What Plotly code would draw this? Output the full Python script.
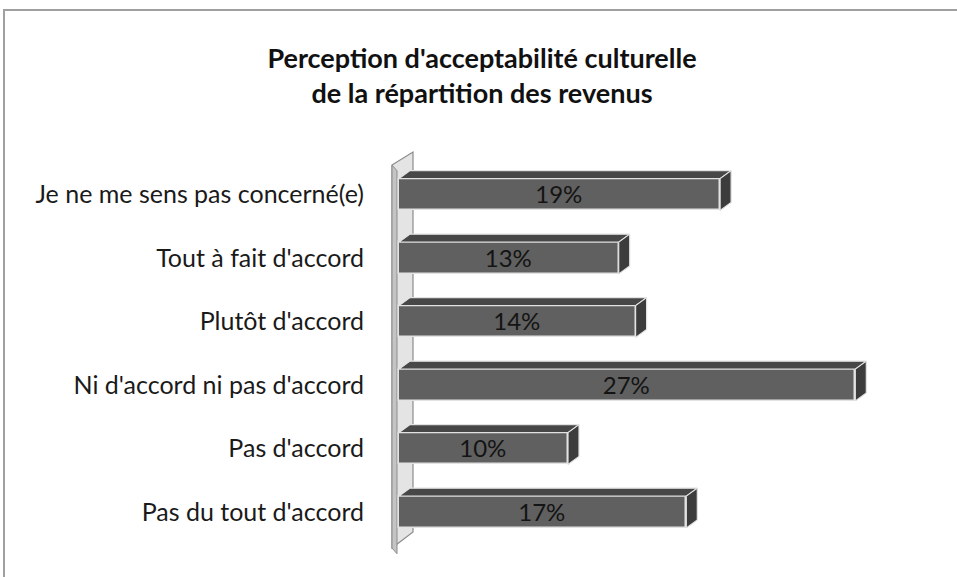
import plotly.graph_objects as go

# Survey results, top row first
categories = [
    "Je ne me sens pas concerné(e)",
    "Tout à fait d'accord",
    "Plutôt d'accord",
    "Ni d'accord ni pas d'accord",
    "Pas d'accord",
    "Pas du tout d'accord",
]
values = [19, 13, 14, 27, 10, 17]

# vertical slot of each category (bottom row = 0)
n = len(categories)
positions = [n - 1 - i for i in range(n)]

# geometry of the plot area (pixels) and the 3D look
W, H = 957, 577
PL, PR, PT, PB = 385, 900, 140, 556
X0_PX = 399            # pixel where value 0 sits
PX_PER_UNIT = 16.9     # pixels per percentage point
ROW_PX = 63.5          # pixels between rows
ROW0_PX = 512          # pixel centre of bottom row

x_range = [(PL - X0_PX) / PX_PER_UNIT, (PR - X0_PX) / PX_PER_UNIT]
y_range = [-(PB - ROW0_PX) / ROW_PX, (ROW0_PX - PT) / ROW_PX]

def px_x(p):
    return (p - X0_PX) / PX_PER_UNIT

def px_y(p):
    return (ROW0_PX - p) / ROW_PX

bar_w = 0.5
dx = 11 / PX_PER_UNIT
dy = 8 / ROW_PX

front = "#606060"
top_c = "#474747"
side_c = "#3c3c3c"
edge = "#e2e2e2"
FONT = "Lato, Open Sans, sans-serif"

fig = go.Figure()

fig.add_trace(go.Bar(
    x=values, y=positions, orientation="h", width=bar_w,
    marker=dict(color=front, line=dict(color=edge, width=1.5)),
    text=[f"{v}%" for v in values], textposition="inside",
    insidetextanchor="middle", constraintext="none",
    textfont=dict(family=FONT, size=24, color="#141414"),
    hoverinfo="skip", showlegend=False,
))

# top and side faces of each bar
for v, p in zip(values, positions):
    yt = p + bar_w / 2
    yb = p - bar_w / 2
    fig.add_trace(go.Scatter(
        x=[0, v, v + dx, dx, 0], y=[yt, yt, yt + dy, yt + dy, yt],
        mode="lines", fill="toself", fillcolor=top_c,
        line=dict(color=edge, width=1.2), hoverinfo="skip", showlegend=False,
    ))
    fig.add_trace(go.Scatter(
        x=[v, v + dx, v + dx, v, v], y=[yt, yt + dy, yb + dy, yb, yt],
        mode="lines", fill="toself", fillcolor=side_c,
        line=dict(color=edge, width=1.2), hoverinfo="skip", showlegend=False,
    ))

# the side wall behind the bars
wx_l, wx_f, wx_r = px_x(392), px_x(397), px_x(413)
w_top_l, w_top_r = px_y(165), px_y(152)
w_bot_l, w_bot_r = px_y(548), px_y(532)
shapes = [
    dict(type="path", layer="below", xref="x", yref="y",
         path=f"M {wx_l},{w_top_l} L {wx_r},{w_top_r} L {wx_r},{w_bot_r} L {wx_l},{w_bot_l} Z",
         fillcolor="#e4e4e4", line=dict(color="#8c8c8c", width=1.2)),
    dict(type="path", layer="below", xref="x", yref="y",
         path=f"M {wx_l},{w_top_l} L {wx_f},{w_top_l - 0.09} L {wx_f},{w_bot_l - 0.09} L {wx_l},{w_bot_l} Z",
         fillcolor="#c4c4c4", line=dict(color="#8c8c8c", width=1)),
]

# outer chart frame
pw, ph = PR - PL, PB - PT
def paper_x(p):
    return (p - PL) / pw
def paper_y(p):
    return (PB - p) / ph
shapes.append(dict(
    type="rect", xref="paper", yref="paper", layer="below",
    x0=paper_x(4), x1=paper_x(W + 10), y0=paper_y(H + 10), y1=paper_y(10),
    line=dict(color="#a0a0a0", width=2), fillcolor="rgba(0,0,0,0)",
))

fig.update_layout(
    width=W, height=H,
    margin=dict(l=PL, r=W - PR, t=PT, b=H - PB),
    paper_bgcolor="white", plot_bgcolor="white",
    title=dict(
        text="<b>Perception d'acceptabilité culturelle<br>de la répartition des revenus</b>",
        x=482 / W, xanchor="center", y=1 - 68 / H, yanchor="middle",
        font=dict(family=FONT, size=27, color="#111"),
    ),
    xaxis=dict(range=x_range, visible=False, fixedrange=True),
    yaxis=dict(
        range=y_range, tickvals=positions, ticktext=categories,
        showgrid=False, zeroline=False, showline=False, ticks="",
        ticklabelstandoff=PL - 363 - 2,
        tickfont=dict(family=FONT, size=25, color="#1a1a1a"),
        fixedrange=True,
    ),
    shapes=shapes,
    bargap=0,
)

fig.write_html("out.html")
